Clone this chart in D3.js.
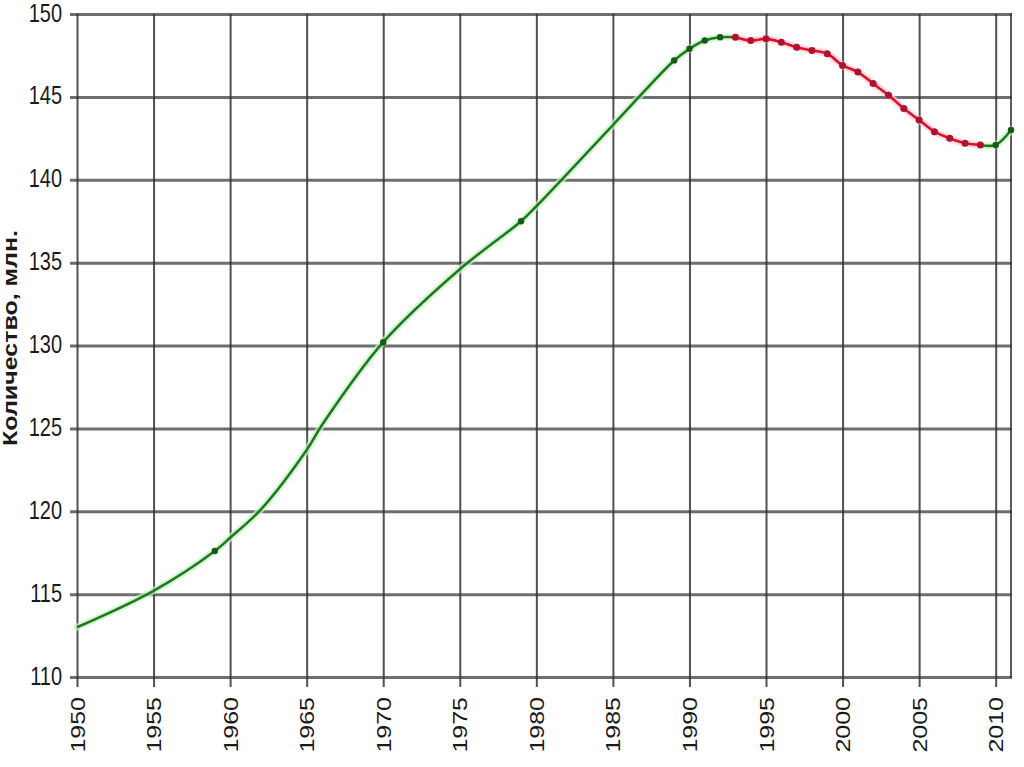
<!DOCTYPE html>
<html>
<head>
<meta charset="utf-8">
<script src="https://cdn.jsdelivr.net/npm/d3@7"></script>
<style>
  html, body { margin: 0; padding: 0; background: #fff; overflow: hidden; }
  svg { display: block; font-family: "Liberation Sans", Arial, sans-serif; }
</style>
</head>
<body>
<div id="chart"></div>
<script>
// Population of Russia, millions
const growthYears = [1950, 1955, 1959, 1960, 1962, 1965, 1966, 1970, 1975, 1979, 1980, 1985, 1989, 1990, 1991, 1992, 1993];
const growthValues = [113.0, 115.2, 117.6, 118.4, 120.1, 123.7, 125.2, 130.2, 134.6, 137.5, 138.4, 143.3, 147.2, 147.9, 148.4, 148.6, 148.6];

const declineYears = [1993, 1994, 1995, 1996, 1997, 1998, 1999, 2000, 2001, 2002, 2003, 2004, 2005, 2006, 2007, 2008, 2009];
const declineValues = [148.6, 148.4, 148.5, 148.3, 148.0, 147.8, 147.6, 146.9, 146.5, 145.8, 145.1, 144.3, 143.6, 142.9, 142.5, 142.2, 142.1];

const recoveryYears = [2009, 2010, 2011];
const recoveryValues = [142.1, 142.1, 143.0];

// years that carry a green marker
const greenMarkerYears = [1959, 1970, 1979, 1989, 1990, 1991, 1992, 2010, 2011];

const yTicks = [110, 115, 120, 125, 130, 135, 140, 145, 150];
const xTicks = [1950, 1955, 1960, 1965, 1970, 1975, 1980, 1985, 1990, 1995, 2000, 2005, 2010];
const yTitle = "Количество, млн.";

const width = 1024, height = 767;

const svg = d3.select("#chart").append("svg")
  .attr("width", width)
  .attr("height", height);

const x = d3.scaleLinear().domain([1950, 2011]).range([77, 1011]);
const y = d3.scaleLinear().domain([110, 150]).range([677, 14]);

const plotW = x(2011) - x(1950);
const plotH = y(110) - y(150);

const zip = (years, values) => years.map((yr, i) => ({ year: yr, value: values[i] }));
const growth = zip(growthYears, growthValues);
const decline = zip(declineYears, declineValues);
const recovery = zip(recoveryYears, recoveryValues);
const allPoints = [...growth, ...decline, ...recovery];

// horizontal grid + y ticks
const yAxisG = svg.append("g")
  .attr("transform", `translate(${x(1950)},0)`)
  .call(d3.axisLeft(y).tickValues(yTicks).tickSize(7).tickPadding(0).tickFormat(d3.format("d")));
yAxisG.select(".domain").remove();
yAxisG.selectAll(".tick line")
  .attr("x1", -7).attr("x2", plotW + 1)
  .attr("stroke", "#555").attr("stroke-width", 3).attr("stroke-opacity", 0.85);
yAxisG.selectAll(".tick text")
  .attr("x", -15).attr("dy", null)
  .attr("font-size", 20).attr("fill", "#1a1a1a")
  .attr("transform", "translate(0,7) scale(1,1.25)");

// vertical grid + x ticks
const xAxisG = svg.append("g")
  .attr("transform", `translate(0,${y(110)})`)
  .call(d3.axisBottom(x).tickValues(xTicks).tickSize(10).tickPadding(0).tickFormat(d3.format("d")));
xAxisG.select(".domain").remove();
xAxisG.selectAll(".tick line")
  .attr("y1", -plotH).attr("y2", 10)
  .attr("stroke", "#333").attr("stroke-width", 2).attr("stroke-opacity", 0.85);
xAxisG.selectAll(".tick text")
  .attr("y", 0).attr("dy", null)
  .attr("font-size", 20).attr("fill", "#1a1a1a")
  .attr("text-anchor", "end")
  .attr("transform", "translate(7,20) rotate(-90) scale(1.25,1)");

// right border of the plot
svg.append("line")
  .attr("x1", x(2011)).attr("x2", x(2011))
  .attr("y1", y(150) - 1).attr("y2", y(110) + 1)
  .attr("stroke", "#333").attr("stroke-width", 2).attr("stroke-opacity", 0.8);

// y axis title
svg.append("text")
  .attr("transform", `translate(17,338) rotate(-90) scale(1.25,1)`)
  .attr("text-anchor", "middle")
  .attr("font-size", 20).attr("font-weight", "bold").attr("fill", "#1a1a1a")
  .text(yTitle);

const line = d3.line()
  .x((d) => x(d.year))
  .y((d) => y(d.value))
  .curve(d3.curveCatmullRom.alpha(0.5));

const series = [
  { data: growth, color: "#1f7a1f", halo: "#c9f2c9" },
  { data: decline, color: "#e0102c", halo: "#ffc8d2" },
  { data: recovery, color: "#1f7a1f", halo: "#c9f2c9" },
];

// soft halo under the lines
svg.append("g").selectAll("path")
  .data(series).join("path")
  .attr("d", (d) => line(d.data))
  .attr("fill", "none")
  .attr("stroke", (d) => d.halo)
  .attr("stroke-width", 7)
  .attr("stroke-opacity", 0.7)
  .attr("stroke-linecap", "round");

svg.append("g").selectAll("path")
  .data(series).join("path")
  .attr("d", (d) => line(d.data))
  .attr("fill", "none")
  .attr("stroke", (d) => d.color)
  .attr("stroke-width", 2.6)
  .attr("stroke-linejoin", "round");

// markers
const greenMarks = allPoints.filter((d, i, arr) =>
  greenMarkerYears.includes(d.year) && arr.findIndex((e) => e.year === d.year) === i);

svg.append("g").selectAll("circle")
  .data(decline).join("circle")
  .attr("cx", (d) => x(d.year)).attr("cy", (d) => y(d.value))
  .attr("r", 3.5).attr("fill", "#b0122e");

svg.append("g").selectAll("circle")
  .data(greenMarks).join("circle")
  .attr("cx", (d) => x(d.year)).attr("cy", (d) => y(d.value))
  .attr("r", 3.2).attr("fill", "#145c14");
</script>
</body>
</html>
